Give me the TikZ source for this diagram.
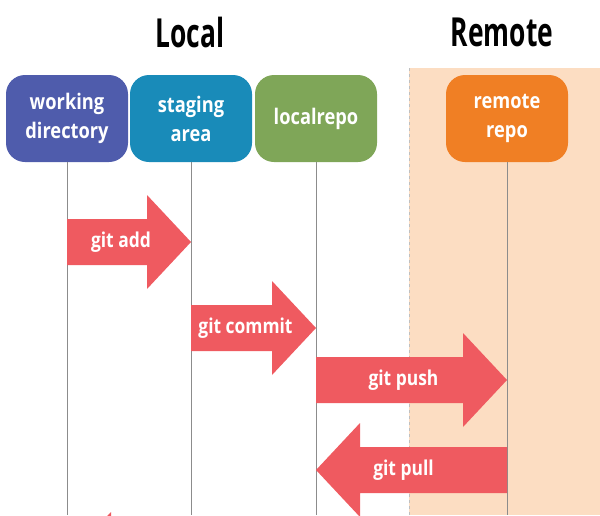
\documentclass[tikz,border=0pt]{standalone}
\usepackage{fontspec}
\setmainfont[FakeStretch=0.85]{Open Sans}
\newfontfamily\titlefont[FakeStretch=0.66]{Open Sans}
\definecolor{wdblue}{RGB}{79,92,172}
\definecolor{sateal}{RGB}{25,139,185}
\definecolor{lrgreen}{RGB}{127,166,88}
\definecolor{rrorange}{RGB}{240,127,36}
\definecolor{arrowred}{RGB}{239,90,96}
\definecolor{peach}{RGB}{252,221,194}
\tikzset{
  repobox/.style={rounded corners=19pt,minimum width=122pt,minimum height=87pt,
    inner sep=0pt,text=white,align=center,font=\fontsize{21.5}{29}\selectfont\bfseries},
  lifeline/.style={draw=gray!90,line width=.9pt},
  gitlabel/.style={text=white,font=\fontsize{20.5}{24}\selectfont\bfseries},
  titlelabel/.style={font=\titlefont\fontsize{40}{44}\selectfont\bfseries}
}
% fat arrow: from x, to x, y, text
\newcommand\gitarrow[4]{%
  \pgfmathsetmacro\hx{#2-44*sign(#2-#1)}
  \fill[arrowred] (#1,{#3-23}) -- (\hx,{#3-23}) -- (\hx,{#3-47})
    -- (#2,#3) -- (\hx,{#3+47}) -- (\hx,{#3+23}) -- (#1,{#3+23}) -- cycle;
  \node[gitlabel] at ({(#1+#2)/2-8},#3) {#4};
}
\begin{document}
\begin{tikzpicture}[x=1pt,y=-1pt]
  \def\xwd{67}
  \def\xsa{191}
  \def\xlr{316}
  \def\xrr{507}
  \def\ybox{118.5}
  \clip (0,0) rectangle (600,515);
  % Remote side
  \fill[peach] (409,68) rectangle (600,515);
  \draw[gray!50,dashed] (409,68) -- (409,515);
  \node[titlelabel] (local) at (190,32) {Local};
  \node[titlelabel] (remote) at (502,32) {Remote};
  \node[repobox,fill=wdblue] (wd) at (\xwd,\ybox) {working\\directory};
  \node[repobox,fill=sateal] (sa) at (\xsa,\ybox) {staging\\area};
  \node[repobox,fill=lrgreen] (lr) at (\xlr,\ybox) {localrepo};
  \node[repobox,fill=rrorange] (rr) at (\xrr,\ybox) {remote\\repo};
  \coordinate (bot) at (0,515);
  \foreach \n in {wd,sa,lr,rr}
    \draw[lifeline] (\n.south) -- (\n.south |- bot);
  \gitarrow{\xwd}{\xsa}{242}{git add}
  \gitarrow{\xsa}{\xlr}{328}{git commit}
  \gitarrow{\xlr}{\xrr}{380}{git push}
  \gitarrow{\xrr}{\xlr}{470}{git pull}
  \gitarrow{\xsa}{\xwd}{559}{}
\end{tikzpicture}
\end{document}
